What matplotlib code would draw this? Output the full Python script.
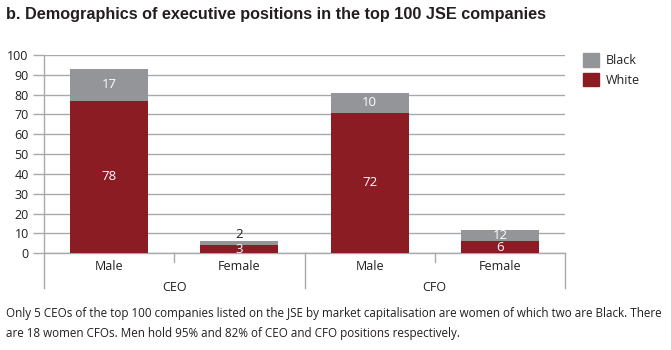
import matplotlib
matplotlib.use("Agg")
import matplotlib.pyplot as plt
from matplotlib.patches import Patch

# values as drawn in the picture (bar heights) and the printed labels
categories = ['Male', 'Female', 'Male', 'Female']
groups = ['CEO', 'CFO']
white = [77, 4, 71, 6]
black = [16, 2, 10, 6]
white_labels = ['78', '3', '72', '6']
black_labels = ['17', '2', '10', '12']

title = 'b. Demographics of executive positions in the top 100 JSE companies'
caption = ['Only 5 CEOs of the top 100 companies listed on the JSE by market capitalisation are women of which two are Black. There',
           'are 18 women CFOs. Men hold 95% and 82% of CEO and CFO positions respectively.']

RED = '#8c1c24'
GREY = '#939598'
LINE = '#a7a9ac'
TXT = '#231f20'

plt.rcParams['font.family'] = ['Open Sans', 'DejaVu Sans']

fig = plt.figure(figsize=(6.71, 3.5), dpi=100)
W, H = 671, 350
ax = fig.add_axes([44 / W, 1 - 253.3 / H, 521 / W, (253.3 - 55) / H])

x = list(range(len(categories)))
ax.bar(x, white, width=0.6, color=RED, zorder=3)
ax.bar(x, black, width=0.6, bottom=white, color=GREY, zorder=3)

ax.set_xlim(-0.5, 3.5)
ax.set_ylim(0, 100)
ax.set_yticks(range(0, 101, 10))
ax.yaxis.grid(True, color=LINE, lw=1)
ax.set_axisbelow(True)
ax.tick_params(axis='y', length=8, width=1, color=LINE, labelsize=9,
               labelcolor=TXT, pad=3)
ax.set_xticks(x)
ax.set_xticklabels(categories)
ax.tick_params(axis='x', length=0, labelsize=9, labelcolor=TXT, pad=5)
for s in ['top', 'right']:
    ax.spines[s].set_visible(False)
for s in ['left', 'bottom']:
    ax.spines[s].set_color(LINE)
    ax.spines[s].set_linewidth(1)

# category separators below the axis
depth_short = 9 / 198.3
depth_long = 35 / 198.3
tr = ax.get_xaxis_transform()
ax.plot([-0.5, -0.5], [0, -depth_long], transform=tr, color=LINE, lw=1, clip_on=False)
for xs, d in [(0.5, depth_short), (1.5, depth_long), (2.5, depth_short), (3.5, depth_long)]:
    ax.plot([xs, xs], [0, -d], transform=tr, color=LINE, lw=1, clip_on=False)

for i, g in enumerate(groups):
    ax.text(0.5 + 2 * i, -34 / 198.3, g, transform=tr, ha='center', va='center',
            fontsize=9, color=TXT)

# value labels
for i in x:
    ax.text(i, white[i] / 2, white_labels[i], ha='center', va='center',
            color='white', fontsize=9.5, zorder=4)
    if black[i] >= 5:
        ax.text(i, white[i] + black[i] / 2, black_labels[i], ha='center',
                va='center', color='white', fontsize=9.5, zorder=4)
    else:
        ax.text(i, white[i] + black[i] + 0.3, black_labels[i], ha='center',
                va='bottom', color=TXT, fontsize=9.5, zorder=4)

handles = [Patch(color=GREY), Patch(color=RED)]
fig.legend(handles, ['Black', 'White'], loc='upper left',
           bbox_to_anchor=(578 / W, 1 - 48 / H), frameon=False, fontsize=9,
           handlelength=1.3, handleheight=1.3, labelspacing=0.45,
           handletextpad=0.5, labelcolor=TXT, borderaxespad=0)

t = fig.text(6 / W, 1 - 14 / H, title,
             family=['Liberation Sans Narrow', 'Liberation Sans', 'DejaVu Sans'],
             fontweight='bold', fontsize=12.5, color=TXT, va='center', ha='left')
c1 = fig.text(6 / W, 1 - 313 / H, caption[0], fontsize=8.8, color=TXT,
              va='center', ha='left')
c2 = fig.text(6 / W, 1 - 333 / H, caption[1], fontsize=8.8, color=TXT,
              va='center', ha='left')

# shrink the long texts so they span the same width as in the reference
r = fig.canvas.get_renderer()
tw = t.get_window_extent(r).width
t.set_fontsize(12.5 * 543 / tw)
cw = c1.get_window_extent(r).width
c1.set_fontsize(8.8 * 659 / cw)
c2.set_fontsize(8.8 * 659 / cw)

fig.savefig('out.png', dpi=100)
